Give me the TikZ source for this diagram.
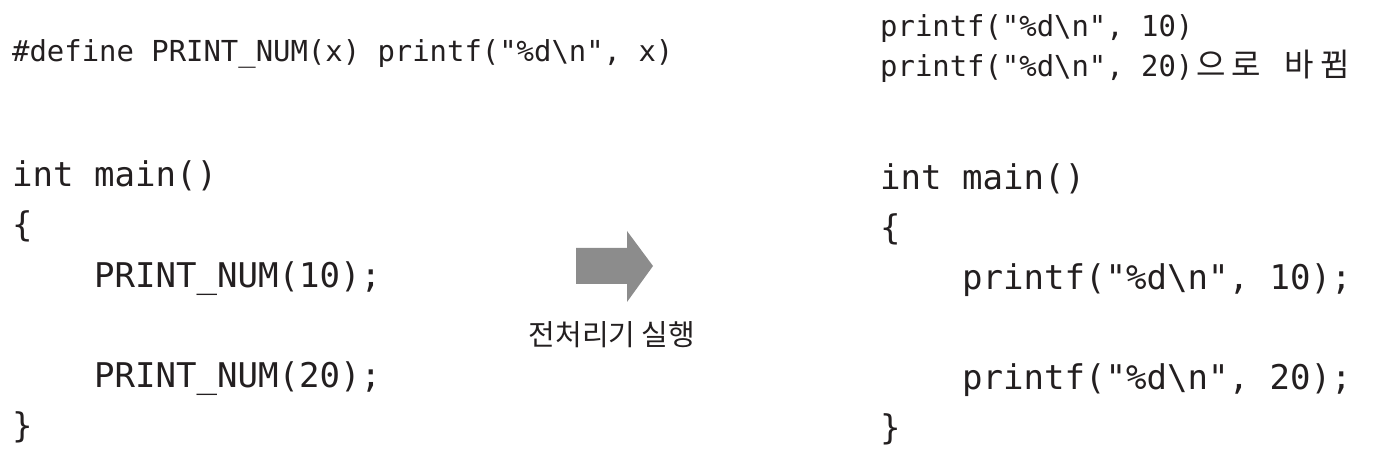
\documentclass[tikz,border=0pt]{standalone}
\usepackage{fontspec}
\setmonofont{DejaVu Sans Mono}
\newfontfamily\krfont{Noto Sans CJK KR}
\definecolor{ink}{HTML}{231F20}
\definecolor{arrowgray}{HTML}{8C8C8C}
\newcommand\hg[1]{\makebox[35.5pt]{#1}}
\begin{document}
\begin{tikzpicture}[x=1pt,y=1pt,
  codesmall/.style={anchor=base west,inner sep=0pt,text=ink,font=\ttfamily\fontsize{28.9}{30}\selectfont},
  codebig/.style={anchor=base west,inner sep=0pt,text=ink,font=\ttfamily\fontsize{34.05}{36}\selectfont},
  label/.style={anchor=base,inner sep=0pt,text=ink,font=\krfont\fontsize{29}{30}\selectfont}]
\useasboundingbox (0,0) rectangle (1386,460);
% left column
\node[codesmall] (def) at (12,{460-62}) {\#define PRINT\_NUM(x) printf("\%d\textbackslash n", x)};
\node[codebig] (lmain) at (12,{460-187}) {int main()};
\node[codebig] (lopen) at (12,{460-237}) {\{};
\node[codebig] (lp1) at (94,{460-288}) {PRINT\_NUM(10);};
\node[codebig] (lp2) at (94,{460-388}) {PRINT\_NUM(20);};
\node[codebig] (lclose) at (12,{460-438}) {\}};
% right column
\node[codesmall] (note1) at (880,{460-37}) {printf("\%d\textbackslash n", 10)};
\node[codesmall] (note2) at (880,{460-77}) {printf("\%d\textbackslash n", 20){\krfont\fontsize{32}{32}\selectfont\hg{으}\hg{로}\hspace{17.4pt}\hg{바}\hg{뀜}}};
\node[codebig] (rmain) at (880,{460-190}) {int main()};
\node[codebig] (ropen) at (880,{460-240}) {\{};
\node[codebig] (rp1) at (962,{460-290}) {printf("\%d\textbackslash n", 10);};
\node[codebig] (rp2) at (962,{460-390}) {printf("\%d\textbackslash n", 20);};
\node[codebig] (rclose) at (880,{460-440}) {\}};
% arrow
\fill[arrowgray] (576,{460-248}) -- (627,{460-248}) -- (627,{460-231}) -- (653,{460-266}) -- (627,{460-302}) -- (627,{460-284}) -- (576,{460-284}) -- cycle;
\node[label] (run) at (612,{460-346}) {전처리기 실행};
\end{tikzpicture}
\end{document}
